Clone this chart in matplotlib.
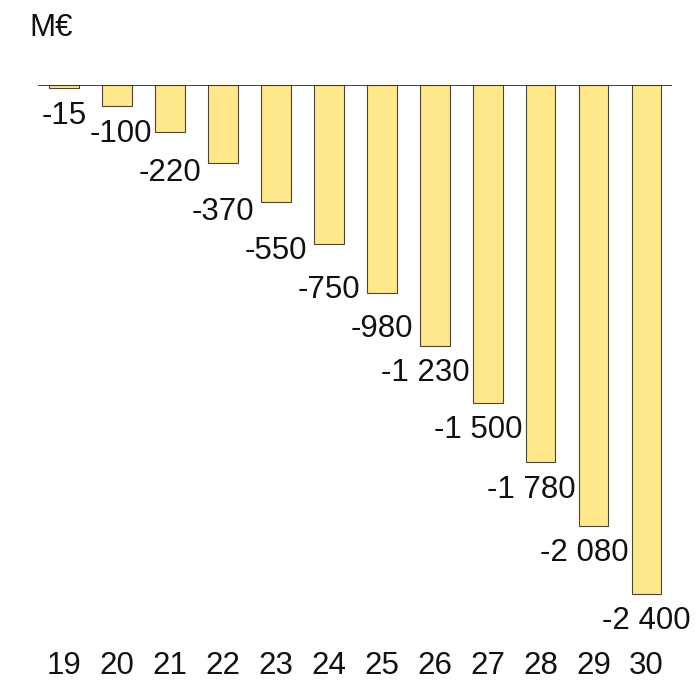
import matplotlib.pyplot as plt

plt.rcParams["font.family"] = ["Liberation Sans", "DejaVu Sans"]

years = ["19", "20", "21", "22", "23", "24", "25", "26", "27", "28", "29", "30"]
values = [-15, -100, -220, -370, -550, -750, -980, -1230, -1500, -1780, -2080, -2400]
unit = "M€"

FS = 22.5


def fmt(v):
    return f"{v:,}".replace(",", " ")


fig = plt.figure(figsize=(6.96, 6.80), dpi=100)
W, H = 696, 680
top_px, bottom_px = 85, 645
left_px, right_px = 38, 672
ax = fig.add_axes([left_px / W, 1 - bottom_px / H,
                   (right_px - left_px) / W, (bottom_px - top_px) / H])

x = list(range(len(years)))
bars = ax.bar(x, values, width=0.56, color="#FFE78C", edgecolor="#4a4535", linewidth=0.8)
ax.axhline(0, color="#333333", linewidth=1.3)

ax.set_xlim(-0.49, len(years) - 1 + 0.48)
ax.set_ylim(-(bottom_px - top_px) / 0.212, 0)
ax.set_xticks(x)
ax.set_xticklabels(years, fontsize=FS, color="#111111")
ax.tick_params(axis="x", length=0, pad=4)
ax.set_yticks([])
for s in ax.spines.values():
    s.set_visible(False)

fig.text(29 / W, 1 - 28 / H, unit, fontsize=FS, ha="left", va="center", color="#111111")

# value labels under the bars
labels = []
for xi, v in zip(x, values):
    t = ax.annotate(fmt(v), (xi, v), xytext=(0, -9), textcoords="offset points",
                    ha="center", va="top", fontsize=FS, color="#111111")
    labels.append(t)

# keep labels clear of the next bar and of the previous label:
# slide sideways if there is room, otherwise drop below the previous label
fig.canvas.draw()
renderer = fig.canvas.get_renderer()
pt = fig.dpi / 72
bar_margin, gap_x, gap_y = 3, 3, 9
prev = None
for i, t in enumerate(labels):
    bb = t.get_window_extent(renderer)
    limit = float("inf")
    if i + 1 < len(bars):
        nb = bars[i + 1].get_window_extent(renderer)
        if nb.y0 < bb.y1:
            limit = nb.x0 - bar_margin
    dx = min(0.0, limit - bb.x1)
    dy = 0.0
    if prev is not None and prev.x1 + gap_x > bb.x0 + dx and prev.y0 - gap_y < bb.y1:
        need = prev.x1 + gap_x - bb.x0
        if bb.x1 + need <= limit:
            dx = need
        else:
            dx = 0.0
            dy = bb.y1 - (prev.y0 - gap_y)
    ox, oy = t.xyann
    t.xyann = (ox + dx / pt, oy - dy / pt)
    prev = t.get_window_extent(renderer)

fig.savefig("out.png", dpi=100)
